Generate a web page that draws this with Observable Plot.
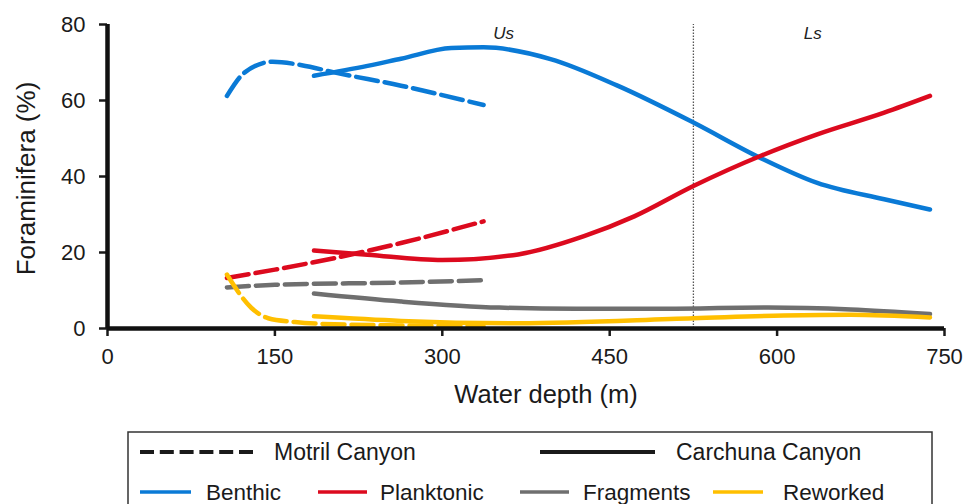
<!DOCTYPE html>
<html><head><meta charset="utf-8">
<script src="https://cdn.jsdelivr.net/npm/d3@7"></script>
<script src="https://cdn.jsdelivr.net/npm/@observablehq/plot@0.6"></script>
<style>
body{margin:0;background:#fff;font-family:"Liberation Sans",Arial,sans-serif;}
#wrap{position:relative;width:964px;height:504px;overflow:hidden;}
</style></head><body><div id="wrap"></div>
<script>
// ---- data (water depth m, foraminifera %) ----
const types = ["Benthic", "Planktonic", "Fragments", "Reworked"];
const typeColors = ["#0a7ad6", "#dc0a1e", "#6f6f6f", "#ffbf00"];
const canyons = ["Motril Canyon", "Carchuna Canyon"];
const xTicks = [0, 150, 300, 450, 600, 750];
const yTicks = [0, 20, 40, 60, 80];
const zoneBoundary = 525;
const zoneLabels = [["Us", 355], ["Ls", 632]];

const benthicMotril = [[107,61.2],[123,67.4],[148,70.2],[174,69.3],[203,67.4],[263,63.9],[337,58.8]];
const benthicCarchuna = [[185,66.5],[233,69.1],[263,71],[308,73.8],[337,74],[397,70.9],[457,63.9],[525,54.2],[585,44.9],[636,38.3],[696,34],[737,31.3]];
const planktonicMotril = [[107,13.3],[150,15.5],[203,18.5],[263,22.5],[337,28.2]];
const planktonicCarchuna = [[185,20.5],[233,19.4],[300,18.0],[368,19.5],[427,24.3],[472,29.5],[525,37.5],[585,45.4],[636,51.1],[696,56.8],[737,61.2]];
const fragmentsMotril = [[107,10.8],[150,11.5],[263,12.1],[337,12.7]];
const fragmentsCarchuna = [[185,9.2],[263,7.1],[351,5.5],[420,5.2],[487,5.2],[592,5.5],[666,5.0],[737,3.8]];
const reworkedMotril = [[107,14.2],[129,5.4],[144,2.7],[168,1.7],[203,1.1],[270,0.8],[337,0.6]];
const reworkedCarchuna = [[185,3.2],[263,2.0],[368,1.4],[525,2.7],[606,3.4],[666,3.6],[737,2.9]];

const series = [
  ["Benthic","Motril Canyon",benthicMotril],["Benthic","Carchuna Canyon",benthicCarchuna],
  ["Planktonic","Motril Canyon",planktonicMotril],["Planktonic","Carchuna Canyon",planktonicCarchuna],
  ["Fragments","Motril Canyon",fragmentsMotril],["Fragments","Carchuna Canyon",fragmentsCarchuna],
  ["Reworked","Motril Canyon",reworkedMotril],["Reworked","Carchuna Canyon",reworkedCarchuna]
];
const rows = series.flatMap(([type, canyon, pts]) => pts.map(([depth, value]) => ({type, canyon, key: type + "|" + canyon, depth, value})));
const motrilRows = rows.filter(d => d.canyon === "Motril Canyon");
const carchunaRows = rows.filter(d => d.canyon === "Carchuna Canyon");

const font = "Liberation Sans, Arial, sans-serif";
const chart = Plot.plot({
  width: 964, height: 430,
  marginLeft: 107, marginRight: 20, marginTop: 24, marginBottom: 102,
  style: {fontFamily: font, fontSize: "22px", color: "#1a1a1a", background: "#fff"},
  x: {domain: [0, 750]},
  y: {domain: [0, 80]},
  color: {domain: types, range: typeColors},
  marks: [
    Plot.ruleX([zoneBoundary], {y1: 0, y2: 80, stroke: "#555", strokeWidth: 1.3, strokeDasharray: "1.5,1.5"}),
    Plot.text(zoneLabels, {x: d => d[1], y: 77.6, text: d => d[0], fontStyle: "italic", fontSize: 17, fill: "#222"}),
    Plot.line(carchunaRows, {x: "depth", y: "value", z: "key", stroke: "type", strokeWidth: 4.5, curve: "monotone-x"}),
    Plot.line(motrilRows, {x: "depth", y: "value", z: "key", stroke: "type", strokeWidth: 4.5, curve: "monotone-x", strokeDasharray: "22,7"}),
    Plot.axisX({ticks: xTicks, tickSize: 8, tickPadding: 12, strokeWidth: 2.5, fontSize: 22, label: null}),
    Plot.axisY({ticks: yTicks, tickSize: 8, tickPadding: 14, strokeWidth: 2.5, fontSize: 22, label: null}),
    Plot.ruleY([0], {stroke: "#111", strokeWidth: 4.5}),
    Plot.ruleX([0], {stroke: "#111", strokeWidth: 4.5}),
    Plot.text(["Water depth (m)"], {frameAnchor: "bottom", lineAnchor: "middle", textAnchor: "middle", dy: 66, dx: 20, fontSize: 25.5, fill: "#1a1a1a"}),
    Plot.text(["Foraminifera (%)"], {frameAnchor: "left", lineAnchor: "middle", textAnchor: "middle", dx: -81, dy: 2, rotate: -90, fontSize: 26, fill: "#1a1a1a"})
  ]
});
const wrap = document.getElementById("wrap");
wrap.appendChild(chart);

// ---- legend ----
const svg = d3.select(wrap).append("svg").attr("width", 964).attr("height", 504)
  .style("position", "absolute").style("left", "0px").style("top", "0px").style("pointer-events", "none");
svg.append("rect").attr("x", 128).attr("y", 432).attr("width", 804).attr("height", 110)
  .attr("fill", "none").attr("stroke", "#333").attr("stroke-width", 1.5);
const canyonLegend = [[canyons[0], 140, 253, 274, "14,5.8"], [canyons[1], 540, 655, 676, null]];
canyonLegend.forEach(([name, x1, x2, tx, dash]) => {
  svg.append("line").attr("x1", x1).attr("x2", x2).attr("y1", 452).attr("y2", 452)
    .attr("stroke", "#1a1a1a").attr("stroke-width", 4).attr("stroke-dasharray", dash);
  svg.append("text").attr("x", tx).attr("y", 452).attr("dy", "0.35em").attr("font-size", 23)
    .attr("font-family", font).attr("fill", "#1a1a1a").text(name);
});
const typeLegendX = [[140, 191, 206], [318, 367, 380], [520, 569, 583], [713, 763, 783]];
types.forEach((t, i) => {
  const [x1, x2, tx] = typeLegendX[i];
  svg.append("line").attr("x1", x1).attr("x2", x2).attr("y1", 492).attr("y2", 492)
    .attr("stroke", typeColors[i]).attr("stroke-width", 3.5);
  svg.append("text").attr("x", tx).attr("y", 492).attr("dy", "0.35em").attr("font-size", 22.5)
    .attr("font-family", font).attr("fill", "#1a1a1a").text(t);
});
</script></body></html>
